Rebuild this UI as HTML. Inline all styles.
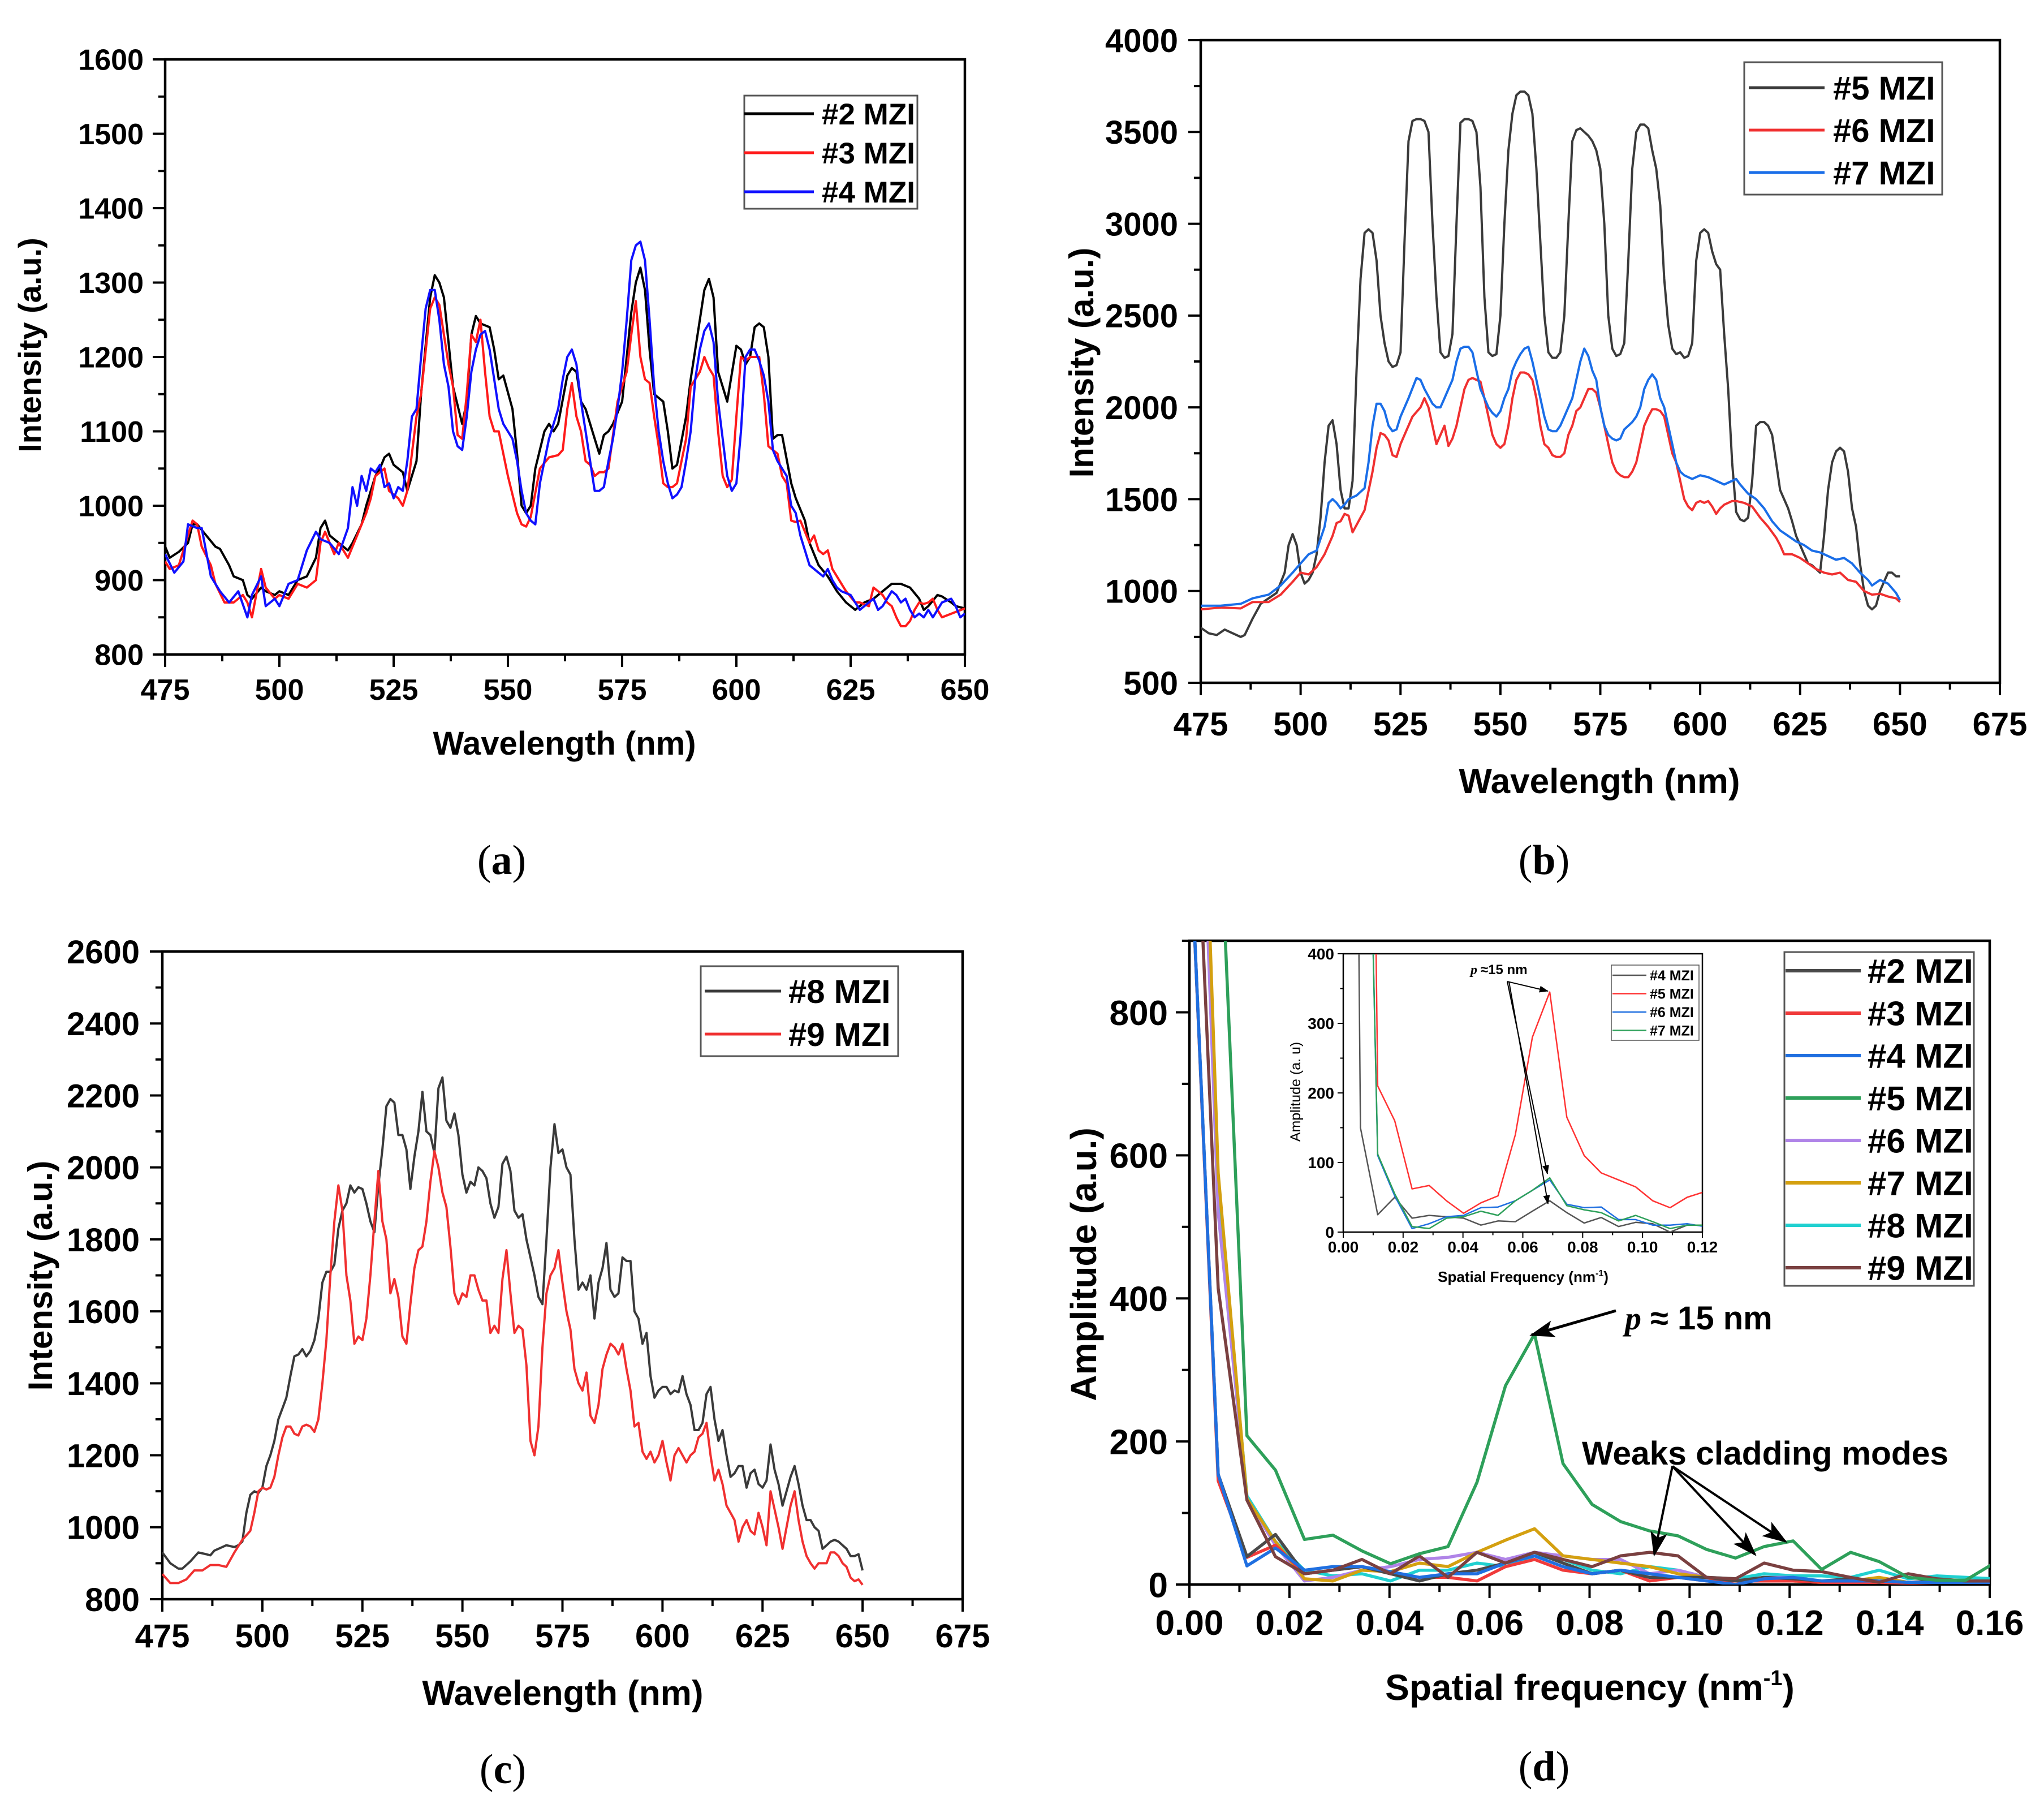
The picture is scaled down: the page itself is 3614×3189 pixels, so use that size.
<!DOCTYPE html>
<html><head><meta charset="utf-8">
<style>
html,body{margin:0;padding:0;background:#fff;}
svg{display:block;}
text{font-family:"Liberation Sans",Arial,sans-serif;font-weight:bold;fill:#000;}
</style></head>
<body>
<svg id="fig" xmlns="http://www.w3.org/2000/svg" width="3614" height="3189" viewBox="0 0 3614 3189">
<defs>
<marker id="ah" markerWidth="10" markerHeight="8" refX="9" refY="4" orient="auto" markerUnits="userSpaceOnUse" viewBox="0 0 10 8"><path d="M0,0 L10,4 L0,8 z" fill="#000"/></marker>
<marker id="ahBig" markerWidth="44" markerHeight="30" refX="40" refY="15" orient="auto" markerUnits="userSpaceOnUse" viewBox="0 0 44 30"><path d="M0,0 L44,15 L0,30 L10,15 z" fill="#000"/></marker>
<marker id="ahSmall" markerWidth="16" markerHeight="12" refX="15" refY="6" orient="auto" markerUnits="userSpaceOnUse" viewBox="0 0 16 12"><path d="M0,0 L16,6 L0,12 z" fill="#000"/></marker>
</defs>
</svg>
<script>
// ---------- Panel (a) data ----------
const aBlackX=[475,476,478,480,481,482,484,486,487,489,490,492,493,494,496,497,499,500,502,504,506,508,509,510,511,513,515,516,518,519,521,522,523,524,525,527,528,530,531,533,534,535,536,537,538,540,541,542,543,544,546,547,548,549,551,552,553,554,555,556,558,559,560,561,563,564,565,566,567,569,570,571,572,573,575,576,577,578,579,580,581,582,584,585,586,587,589,590,591,592,593,594,595,596,597,598,600,601,602,603,604,605,606,607,608,609,610,612,613,615,616,618,620,622,624,626,628,630,631,633,634,636,638,640,641,642,644,645,647,648,650];
const aBlackY=[945,930,938,950,975,975,960,945,942,920,905,900,880,875,890,885,880,885,880,900,905,930,970,980,960,950,940,950,975,1000,1040,1050,1065,1070,1055,1045,1020,1060,1150,1280,1310,1300,1280,1220,1160,1110,1140,1230,1255,1245,1240,1210,1170,1175,1130,1070,1000,990,1000,1050,1100,1110,1100,1110,1175,1185,1180,1140,1130,1090,1070,1095,1100,1110,1140,1200,1260,1300,1320,1290,1210,1150,1140,1100,1050,1055,1120,1170,1210,1250,1290,1305,1280,1180,1160,1140,1215,1210,1190,1200,1240,1245,1240,1200,1090,1095,1095,1030,1010,980,950,920,905,885,870,860,870,875,880,890,895,895,890,875,860,865,880,878,870,865,862];
const aRedX=[475,476,478,480,481,482,483,485,486,488,490,492,493,494,496,497,499,500,502,504,506,508,509,510,511,512,513,515,517,519,520,521,523,524,526,527,528,530,531,533,534,535,536,537,538,539,540,541,542,543,544,545,546,547,548,549,550,552,553,554,555,557,559,561,562,563,564,565,566,567,568,569,570,571,572,574,575,576,577,578,579,580,581,582,583,584,585,586,587,588,589,590,591,592,593,594,595,596,597,598,599,600,601,602,603,604,605,606,607,609,610,611,612,613,614,616,617,618,619,620,621,623,624,626,627,629,630,631,632,633,634,635,636,637,638,639,640,641,642,643,644,645,650];
const aRedY=[925,915,920,960,980,975,945,920,895,870,870,880,870,850,915,890,875,880,875,895,890,900,950,965,950,935,950,930,960,990,1010,1040,1050,1020,1010,1000,1020,1120,1150,1265,1280,1270,1230,1190,1160,1095,1090,1150,1230,1220,1250,1180,1120,1100,1100,1070,1040,990,975,972,985,1050,1065,1068,1075,1130,1165,1120,1100,1060,1055,1040,1045,1045,1050,1140,1160,1180,1230,1275,1200,1170,1165,1120,1080,1030,1025,1025,1030,1060,1090,1160,1170,1180,1200,1185,1175,1100,1040,1025,1035,1120,1200,1195,1200,1200,1200,1150,1080,1070,1040,1030,980,978,980,950,960,940,935,940,915,895,885,870,870,865,890,885,880,870,865,850,838,838,845,860,870,868,870,875,860,850,862];
const aBlueX=[475,477,479,480,482,483,485,487,489,491,493,494,496,497,499,500,502,504,506,508,509,511,513,515,516,517,518,519,520,521,522,523,524,525,526,527,528,529,530,531,532,533,534,535,536,537,538,539,540,541,542,543,544,545,546,547,548,549,550,551,552,553,554,555,556,557,558,559,560,561,562,563,564,565,566,567,568,569,570,571,572,573,574,575,576,577,578,579,580,581,582,583,584,585,586,587,588,589,590,591,592,593,594,595,596,597,598,599,600,601,602,603,604,605,606,607,608,609,610,611,612,613,614,615,616,617,618,619,620,621,622,623,625,626,627,628,630,631,632,634,635,636,637,638,639,640,641,642,643,645,647,648,649,650];
const aBlueY=[935,910,925,975,970,970,905,885,870,885,850,880,905,865,875,865,895,900,940,965,955,950,935,970,1025,1000,1040,1020,1050,1045,1055,1025,1030,1010,1025,1020,1060,1120,1130,1200,1265,1290,1290,1250,1190,1160,1100,1080,1075,1120,1180,1210,1230,1235,1210,1170,1130,1110,1100,1090,1060,1020,990,980,975,1030,1060,1090,1110,1130,1170,1200,1210,1190,1140,1100,1060,1020,1020,1025,1060,1090,1130,1180,1250,1330,1350,1355,1330,1250,1160,1100,1060,1030,1010,1015,1025,1060,1100,1170,1210,1235,1245,1220,1140,1090,1040,1020,1030,1100,1200,1210,1210,1195,1175,1140,1075,1060,1050,1040,1000,990,960,940,920,915,910,905,915,900,890,885,880,870,860,865,875,860,865,885,880,870,875,860,850,855,850,860,850,870,875,865,850,855];

// ---------- Panel (b) data ----------
const b5X=[475,477,479,481,483,485,486,488,490,492,494,496,497,498,499,500,501,502,503,504,505,506,507,508,509,510,511,512,513,514,515,516,517,518,519,520,521,522,523,524,525,526,527,528,529,530,531,532,533,534,535,536,537,538,539,540,541,542,543,544,545,546,547,548,549,550,551,552,553,554,555,556,557,558,559,560,561,562,563,564,565,566,567,568,569,570,571,572,573,574,575,576,577,578,579,580,581,582,583,584,585,586,587,588,589,590,591,592,593,594,595,596,597,598,599,600,601,602,603,604,605,606,607,608,609,610,611,612,613,614,615,616,617,618,619,620,621,622,623,624,625,626,627,628,629,630,631,632,633,634,635,636,637,638,639,640,641,642,643,644,645,646,647,648,649,650];
const b5Y=[800,770,760,790,770,750,760,850,930,960,990,1100,1250,1310,1250,1100,1040,1060,1100,1200,1400,1700,1900,1930,1800,1550,1450,1450,1600,2200,2700,2950,2970,2950,2800,2500,2350,2250,2220,2230,2300,2900,3450,3560,3570,3570,3560,3500,3000,2600,2300,2270,2280,2400,3000,3550,3570,3570,3560,3500,3200,2600,2300,2280,2290,2500,3000,3400,3600,3700,3720,3720,3700,3600,3300,2900,2500,2300,2270,2270,2300,2500,3000,3450,3510,3520,3500,3480,3450,3400,3300,3000,2500,2320,2280,2290,2350,2800,3300,3500,3540,3540,3520,3400,3300,3100,2700,2450,2320,2290,2300,2270,2280,2350,2800,2950,2970,2950,2850,2780,2750,2400,2100,1700,1430,1390,1380,1400,1600,1900,1920,1920,1900,1850,1700,1550,1500,1450,1380,1300,1250,1200,1150,1140,1120,1100,1300,1550,1700,1760,1780,1760,1650,1450,1350,1150,1000,920,900,920,1000,1050,1100,1100,1080,1080];
const b6X=[475,480,485,488,492,495,498,500,502,504,506,508,509,510,511,512,513,515,516,518,519,520,521,522,523,524,525,526,528,530,531,532,533,534,535,536,537,538,539,540,541,542,543,544,545,546,547,548,549,550,551,552,553,554,555,556,557,558,559,560,561,562,563,564,565,566,567,568,569,570,571,572,573,574,575,576,577,578,579,580,581,582,583,584,585,586,587,588,589,590,591,592,593,594,595,596,597,598,599,600,601,602,603,604,605,606,607,608,609,611,613,615,617,619,620,621,623,625,627,629,631,633,635,637,639,641,643,645,647,649,650];
const b6Y=[900,910,905,940,940,980,1050,1100,1090,1130,1200,1300,1370,1380,1420,1410,1320,1400,1440,1650,1780,1860,1850,1820,1740,1730,1800,1850,1950,2000,2050,2000,1900,1800,1850,1900,1790,1830,1900,2000,2100,2150,2160,2150,2140,2050,1950,1850,1800,1780,1800,1900,2050,2150,2190,2190,2180,2150,2050,1900,1800,1780,1740,1730,1730,1750,1850,1900,1980,2000,2050,2100,2100,2080,2000,1900,1800,1700,1650,1630,1620,1620,1650,1700,1800,1900,1950,1990,1990,1980,1950,1850,1750,1700,1600,1500,1460,1440,1480,1490,1480,1490,1460,1420,1450,1470,1480,1490,1490,1480,1460,1400,1350,1290,1250,1200,1200,1180,1150,1120,1100,1090,1100,1060,1050,1000,980,985,970,960,940];
const b7X=[475,480,485,488,492,495,498,500,502,504,506,507,508,509,510,511,512,514,516,517,518,519,520,521,522,523,524,525,527,529,530,531,532,533,534,535,536,537,538,539,540,541,542,543,544,545,546,547,548,549,550,551,552,553,554,555,556,557,558,559,560,561,562,563,564,565,566,567,568,569,570,571,572,573,574,575,576,577,578,579,580,581,582,583,584,585,586,587,588,589,590,591,592,593,594,595,596,598,600,602,604,606,608,609,610,612,614,616,618,620,622,624,626,628,630,632,634,636,638,640,642,643,645,647,649,650];
const b7Y=[920,920,930,960,980,1030,1100,1150,1200,1220,1350,1480,1500,1480,1450,1470,1500,1520,1560,1700,1900,2020,2020,1980,1900,1870,1880,1950,2050,2160,2150,2100,2060,2020,2000,2000,2050,2100,2150,2250,2320,2330,2330,2300,2200,2100,2050,2000,1970,1950,1980,2050,2100,2200,2250,2290,2320,2330,2250,2150,2050,1950,1880,1870,1870,1900,1950,2000,2050,2150,2250,2320,2280,2200,2150,2000,1900,1850,1830,1820,1830,1880,1900,1920,1950,2000,2100,2150,2180,2150,2050,2000,1900,1800,1700,1650,1630,1610,1630,1620,1600,1580,1600,1610,1580,1530,1500,1450,1380,1330,1300,1270,1250,1220,1210,1190,1170,1180,1150,1100,1060,1030,1060,1040,990,950];

// ---------- Panel (c) data ----------
const c8X=[475,477,479,480,482,484,486,487,488,490,491,493,494,495,496,497,498,499,500,501,502,503,504,505,506,507,508,509,510,511,512,513,514,515,516,517,518,519,520,521,522,523,524,525,526,527,528,529,530,531,532,533,534,535,536,537,538,539,540,541,542,543,544,545,546,547,548,549,550,551,552,553,554,555,556,557,558,559,560,561,562,563,564,565,566,567,568,569,570,571,572,573,574,575,576,577,578,579,580,581,582,583,584,585,586,587,588,589,590,591,592,593,594,595,596,597,598,599,600,601,602,603,604,605,606,607,608,609,610,611,612,613,614,615,616,617,618,619,620,621,622,623,624,625,626,627,628,629,630,631,632,633,634,635,636,637,638,639,640,641,642,643,644,645,646,647,648,649,650];
const c8Y=[930,900,885,885,905,930,925,922,935,945,950,945,950,960,1040,1090,1100,1095,1110,1170,1200,1240,1300,1330,1360,1420,1475,1480,1495,1475,1490,1520,1580,1680,1710,1710,1730,1830,1880,1900,1950,1930,1945,1940,1900,1850,1820,1950,2050,2170,2190,2180,2090,2090,2050,1940,2030,2100,2210,2100,2090,2040,2220,2250,2130,2110,2150,2090,1980,1930,1960,1950,2000,1990,1970,1900,1860,1890,2010,2030,1990,1880,1860,1870,1800,1750,1700,1640,1620,1800,2000,2120,2040,2050,2000,1980,1800,1660,1680,1660,1700,1580,1680,1720,1790,1660,1640,1650,1750,1740,1740,1600,1580,1510,1540,1420,1360,1380,1390,1390,1370,1380,1375,1420,1370,1340,1270,1270,1290,1370,1390,1300,1240,1270,1200,1140,1150,1170,1170,1110,1150,1160,1120,1110,1130,1230,1160,1120,1060,1100,1140,1170,1120,1060,1020,1020,1000,990,940,950,960,965,960,950,940,920,920,925,880];
const c9X=[475,477,479,481,483,485,487,489,491,493,495,497,498,499,500,501,502,503,504,505,506,507,508,509,510,511,512,513,514,515,516,517,518,519,520,521,522,523,524,525,526,527,528,529,530,531,532,533,534,535,536,537,538,539,540,541,542,543,544,545,546,547,548,549,550,551,552,553,554,555,556,557,558,559,560,561,562,563,564,565,566,567,568,569,570,571,572,573,574,575,576,577,578,579,580,581,582,583,584,585,586,587,588,589,590,591,592,593,594,595,596,597,598,599,600,601,602,603,604,605,606,607,608,609,610,611,612,613,614,615,616,617,618,619,620,621,622,623,624,625,626,627,628,629,630,631,632,633,634,635,636,637,638,639,640,641,642,643,644,645,646,647,648,649,650];
const c9Y=[870,845,845,855,880,880,895,895,890,930,965,990,1040,1100,1110,1105,1110,1140,1200,1250,1280,1280,1260,1255,1280,1285,1280,1265,1300,1400,1520,1700,1850,1950,1880,1700,1630,1510,1530,1520,1580,1700,1850,1990,1850,1800,1650,1690,1640,1530,1510,1620,1720,1770,1780,1850,1960,2045,2000,1930,1890,1780,1650,1620,1650,1640,1700,1700,1660,1630,1630,1540,1560,1540,1690,1770,1650,1540,1560,1550,1450,1240,1200,1280,1500,1650,1700,1720,1770,1680,1600,1550,1440,1400,1380,1430,1310,1290,1340,1440,1480,1510,1500,1480,1510,1440,1380,1280,1290,1210,1190,1210,1180,1200,1240,1180,1130,1200,1220,1200,1180,1200,1210,1250,1260,1290,1200,1130,1160,1120,1060,1040,1020,960,1000,1020,990,980,1040,1000,950,1100,1050,1000,940,1000,1060,1100,1020,960,920,900,885,900,900,900,930,930,920,900,890,860,850,855,840];

// ---------- Panel (d) data ----------
const dFreq=[0,0.00575,0.0115,0.0172,0.023,0.0287,0.0345,0.0402,0.046,0.0517,0.0575,0.0632,0.069,0.0747,0.0805,0.0862,0.092,0.0977,0.1034,0.1092,0.1149,0.1207,0.1264,0.1322,0.1379,0.1437,0.1494,0.1552,0.1609];
const d2=[1075,154,39,70,15,20,25,15,5,15,20,30,45,30,15,20,10,10,10,5,10,8,5,8,5,3,5,5,5];
const d3=[1075,145,38,55,15,20,25,15,10,10,5,25,35,20,15,20,5,10,5,5,5,5,3,3,3,2,3,3,3];
const d4=[1075,154,26,51,20,25,25,18,10,15,15,30,40,25,15,20,15,10,5,0,8,10,5,5,5,3,3,3,3];
const d5=[3000,1130,208,160,63,69,47,29,43,53,143,278,350,169,112,88,75,68,49,37,53,61,21,45,32,10,6,6,30];
const d6=[1600,520,120,55,5,10,20,25,35,38,45,35,45,40,35,35,15,20,10,5,10,10,5,3,3,3,3,3,3];
const d7=[1735,575,120,60,8,5,20,18,30,25,45,62,78,40,35,30,25,15,10,5,5,5,3,5,10,3,3,3,3];
const d8=[1600,555,124,60,20,12,15,5,20,20,30,25,40,35,20,15,25,20,10,8,15,12,12,10,20,8,12,10,8];
const d9=[1330,414,118,39,15,20,35,15,40,10,45,30,45,35,25,40,45,40,10,8,30,20,18,10,3,15,8,5,5];
// inset
const iFreq=[0,0.00575,0.0115,0.0172,0.023,0.0287,0.0345,0.0402,0.046,0.0517,0.0575,0.0632,0.069,0.0747,0.0805,0.0862,0.092,0.0977,0.1034,0.1092,0.1149,0.1207];
const i4=[3000,150,25,50,20,24,22,20,10,16,15,30,45,28,13,21,8,14,12,0,10,10];
const i5=[3000,2300,210,160,62,67,45,27,42,52,140,280,345,165,110,85,75,65,45,35,50,58];
const i6=[3000,1225,110,52,5,12,22,24,35,36,45,60,75,40,35,36,18,18,10,10,12,8];
const i7=[3000,1225,112,55,8,5,20,22,30,24,45,60,78,38,32,28,16,24,15,5,10,10];

// ---------- drawing helpers ----------
const NS='http://www.w3.org/2000/svg';
const svg=document.getElementById('fig');
function el(tag,attrs,parent){const e=document.createElementNS(NS,tag);for(const k in attrs)e.setAttribute(k,attrs[k]);(parent||svg).appendChild(e);return e;}
function txt(s,attrs,parent){const t=el('text',attrs,parent);t.textContent=s;return t;}

function axes(P){
  const g=el('g',{});
  
  
  const sx=v=>P.L+(v-P.x0)/(P.x1-P.x0)*(P.R-P.L);
  const sy=v=>P.B-(v-P.y0)/(P.y1-P.y0)*(P.B-P.T);
  const cid='clip-'+P.name;
  const cp=el('clipPath',{id:cid},g);el('rect',{x:P.L,y:P.T,width:P.R-P.L,height:P.B-P.T},cp);
  // ticks
  const tg=el('g',{stroke:'#000','stroke-width':P.tw},g);
  
  
  for(let i=0;;i++){const v=P.y0+i*P.ym/2;if(v>P.y1+1e-9)break;const y=sy(v);const maj=i%2===0;el('line',{x1:P.L-(maj?P.tl:P.tl*0.55),x2:P.L,y1:y,y2:y},tg);
    if(maj){const t=txt(P.yfmt(v),{x:P.L-P.lg,y:y+P.fs*0.36,'font-size':P.fs,'text-anchor':'end'},g);}}
  for(let i=0;;i++){const v=P.x0+i*P.xm/2;if(v>P.x1+1e-9)break;const x=sx(v);const maj=i%2===0;el('line',{x1:x,x2:x,y1:P.B,y2:P.B+(maj?P.tl:P.tl*0.55)},tg);
    if(maj){const t=txt(P.xfmt(v),{x:x,y:P.xly,'font-size':P.fs,'text-anchor':'middle'},g);}}
  const fr=el('rect',{x:P.L,y:P.T,width:P.R-P.L,height:P.B-P.T,fill:'none',stroke:'#000','stroke-width':P.aw},g);
  
  
  return {g,sx,sy,cid};
}
function series(A,xs,ys,color,w,name){
  const pts=xs.map((x,i)=>A.sx(x).toFixed(1)+','+A.sy(ys[i]).toFixed(1)).join(' ');
  const p=el('polyline',{points:pts,fill:'none',stroke:color,'stroke-width':w,'stroke-linejoin':'round','clip-path':'url(#'+A.cid+')'},A.g);
  
  
}
function legend(box,rows,o,name){
  const g=el('g',{});
  
  
  el('rect',{x:box[0],y:box[1],width:box[2]-box[0],height:box[3]-box[1],fill:'#fff',stroke:'#555','stroke-width':o.bw},g);
  rows.forEach((r,i)=>{const y=o.y0+i*o.dy;
    const ln=el('line',{x1:o.lx1,x2:o.lx2,y1:y,y2:y,stroke:r[1],'stroke-width':o.lw},g);
    
    
    const t=txt(r[0],{x:o.tx,y:y+o.fs*0.36,'font-size':o.fs},g);
    
    });
}
function label(s,x,y,fs,rot,name,extra){
  const a={x:x,y:y,'font-size':fs,'text-anchor':'middle'};
  if(rot)a.transform='rotate(-90 '+x+' '+y+')';
  const t=txt(s,a);
  
  
  return t;
}
function panelLabel(ch,x,y,name){
  const t=el('text',{x:x,y:y,'font-size':74,'text-anchor':'middle',style:'font-family:"Liberation Serif",serif;font-weight:normal'});
  
  
  const a=el('tspan',{},t);a.textContent='(';
  const b=el('tspan',{style:'font-weight:bold'},t);b.textContent=ch;
  const c=el('tspan',{},t);c.textContent=')';
}
const f0=v=>String(Math.round(v));
const f2=v=>v.toFixed(2);

// ---------- Panel (a) ----------
const A=axes({name:'panel-a',L:292,R:1706,T:105,B:1157,x0:475,x1:650,y0:800,y1:1600,xm:25,ym:100,tl:22,tw:4,aw:4.5,fs:52,lg:38,xly:1237,xfmt:f0,yfmt:f0});
series(A,aBlackX,aBlackY,'#000','4','series-2-mzi');
series(A,aRedX,aRedY,'#ff1a1a','4','series-3-mzi');
series(A,aBlueX,aBlueY,'#1010ff','4','series-4-mzi');
legend([1316,169,1622,369],[['#2 MZI','#000'],['#3 MZI','#ff1a1a'],['#4 MZI','#1010ff']],{y0:201,dy:69,lx1:1316,lx2:1439,tx:1453,fs:53,lw:5,bw:3},'legend-a');
label('Wavelength (nm)',998,1334,58,false,'x-axis-title-a');
label('Intensity (a.u.)',72,610,56,true,'y-axis-title-a');
panelLabel('a',887,1545,'panel-label-a');

// ---------- Panel (b) ----------
const B=axes({name:'panel-b',L:2123,R:3536,T:71,B:1207,x0:475,x1:675,y0:500,y1:4000,xm:25,ym:500,tl:22,tw:4,aw:4.5,fs:58,lg:40,xly:1300,xfmt:f0,yfmt:f0});
series(B,b5X,b5Y,'#3a3a3a','4','series-5-mzi');
series(B,b6X,b6Y,'#f03030','4','series-6-mzi');
series(B,b7X,b7Y,'#1a6ee8','4','series-7-mzi');
legend([3084,110,3434,344],[['#5 MZI','#3a3a3a'],['#6 MZI','#f03030'],['#7 MZI','#1a6ee8']],{y0:155,dy:75,lx1:3092,lx2:3226,tx:3241,fs:58,lw:5,bw:3},'legend-b');
label('Wavelength (nm)',2828,1402,62,false,'x-axis-title-b');
label('Intensity (a.u.)',1933,641,60,true,'y-axis-title-b');
panelLabel('b',2730,1545,'panel-label-b');

// ---------- Panel (c) ----------
const C=axes({name:'panel-c',L:287,R:1702,T:1682,B:2827,x0:475,x1:675,y0:800,y1:2600,xm:25,ym:200,tl:22,tw:4,aw:4.5,fs:58,lg:40,xly:2912,xfmt:f0,yfmt:f0});
series(C,c8X,c8Y,'#3a3a3a','4','series-8-mzi');
series(C,c9X,c9Y,'#f03030','4','series-9-mzi');
legend([1239,1708,1588,1867],[['#8 MZI','#3a3a3a'],['#9 MZI','#f03030']],{y0:1752,dy:76,lx1:1246,lx2:1381,tx:1394,fs:58,lw:5,bw:3},'legend-c');
label('Wavelength (nm)',995,3014,62,false,'x-axis-title-c');
label('Intensity (a.u.)',92,2255,60,true,'y-axis-title-c');
panelLabel('c',889,3152,'panel-label-c');

// ---------- Panel (d) ----------
const D=axes({name:'panel-d',L:2103,R:3518,T:1663,B:2801,x0:0,x1:0.16,y0:0,y1:900,xm:0.02,ym:200,tl:24,tw:4,aw:4.5,fs:62,lg:38,xly:2890,xfmt:f2,yfmt:f0});
// hide 900-level tick label issue: y ticks generated up to 900 only at 800 major (fine)
const dCols=['#4a4a4a','#f03a3a','#1f6fe0','#2ea05a','#b084e8','#d4a010','#20d0d0','#7a4040'];
const dSets=[d2,d3,d4,d5,d6,d7,d8,d9];
const dNames=['#2 MZI','#3 MZI','#4 MZI','#5 MZI','#6 MZI','#7 MZI','#8 MZI','#9 MZI'];
// draw order: weaker ones first, green last-ish
[6,4,5,8,1,2,0,3].forEach(()=>{});
series(D,dFreq,d8,dCols[6],'5.5','series-d-8-mzi');
series(D,dFreq,d6,dCols[4],'5.5','series-d-6-mzi');
series(D,dFreq,d7,dCols[5],'5.5','series-d-7-mzi');
series(D,dFreq,d3,dCols[1],'5.5','series-d-3-mzi');
series(D,dFreq,d2,dCols[0],'5.5','series-d-2-mzi');
series(D,dFreq,d4,dCols[2],'5.5','series-d-4-mzi');
series(D,dFreq,d9,dCols[7],'5.5','series-d-9-mzi');
series(D,dFreq,d5,dCols[3],'5.5','series-d-5-mzi');
legend([3155,1683,3490,2273],dNames.map((n,i)=>[n,dCols[i]]),{y0:1716,dy:75,lx1:3157,lx2:3290,tx:3302,fs:60,lw:6,bw:3},'legend-d');
const xt=label('Spatial frequency (nm',2811,3005,64,false,'x-axis-title-d');
(function(){const s=el('tspan',{'font-size':38,dy:-26},xt);s.textContent='-1';const s2=el('tspan',{dy:26},xt);s2.textContent=')';})();
label('Amplitude (a.u.)',1938,2235,64,true,'y-axis-title-d');
panelLabel('d',2730,3147,'panel-label-d');

// inset
const I=axes({name:'inset-d',L:2375,R:3010,T:1686,B:2178,x0:0,x1:0.12,y0:0,y1:400,xm:0.02,ym:100,tl:10,tw:2,aw:2.5,fs:28,lg:16,xly:2214,xfmt:f2,yfmt:f0});
el('rect',{x:2376,y:1687,width:633,height:490,fill:'#fff'},I.g).parentNode.insertBefore(I.g.lastChild,I.g.firstChild.nextSibling);
series(I,iFreq,i4,'#555','2.5','inset-series-4-mzi');
series(I,iFreq,i6,'#1f6fe0','2.5','inset-series-6-mzi');
series(I,iFreq,i7,'#2ea05a','2.5','inset-series-7-mzi');
series(I,iFreq,i5,'#ff3333','2.5','inset-series-5-mzi');
legend([2849,1706,3004,1839],[['#4 MZI','#555'],['#5 MZI','#ff3333'],['#6 MZI','#1f6fe0'],['#7 MZI','#2ea05a']],{y0:1724,dy:32.5,lx1:2851,lx2:2911,tx:2917,fs:25,lw:2.5,bw:1.5},'legend-inset');
const ixt=label('Spatial Frequency (nm',2693,2266,26,false,'inset-x-axis-title');
(function(){const s=el('tspan',{'font-size':16,dy:-10},ixt);s.textContent='-1';const s2=el('tspan',{dy:10},ixt);s2.textContent=')';})();
const iyt=label('Amplitude (a. u)',2299,1930,25,true,'inset-y-axis-title');
iyt.setAttribute('style','font-weight:normal');
// inset annotation
const ia=el('g',{});


const it=el('text',{x:2600,y:1722,'font-size':24},ia);
(function(){const p=el('tspan',{style:'font-family:"Liberation Serif",serif;font-style:italic'},it);p.textContent='p ';const q=el('tspan',{},it);q.textContent='≈15 nm';})();
el('line',{x1:2665,y1:1735,x2:2737,y2:1752,stroke:'#000','stroke-width':2,'marker-end':'url(#ahSmall)'},ia);
el('line',{x1:2665,y1:1735,x2:2736,y2:2075,stroke:'#000','stroke-width':2,'marker-end':'url(#ahSmall)'},ia);
el('line',{x1:2668,y1:1735,x2:2737,y2:2128,stroke:'#000','stroke-width':2,'marker-end':'url(#ahSmall)'},ia);

// main annotations
const an=el('g',{});


el('line',{x1:2857,y1:2317,x2:2708,y2:2360,stroke:'#000','stroke-width':5,'marker-end':'url(#ahBig)'},an);
const pt=el('text',{x:2873,y:2350,'font-size':58},an);
(function(){const p=el('tspan',{style:'font-family:"Liberation Serif",serif;font-style:italic'},pt);p.textContent='p';const q=el('tspan',{},pt);q.textContent=' ≈ 15 nm';})();
const wn=el('g',{});


txt('Weaks cladding modes',{x:2797,y:2589,'font-size':58,textLength:648,lengthAdjust:'spacingAndGlyphs'},wn);
el('line',{x1:2957,y1:2592,x2:2925,y2:2748,stroke:'#000','stroke-width':4,'marker-end':'url(#ahBig)'},wn);
el('line',{x1:2957,y1:2592,x2:3103,y2:2748,stroke:'#000','stroke-width':4,'marker-end':'url(#ahBig)'},wn);
el('line',{x1:2957,y1:2592,x2:3157,y2:2725,stroke:'#000','stroke-width':4,'marker-end':'url(#ahBig)'},wn);
</script>
</body></html>
